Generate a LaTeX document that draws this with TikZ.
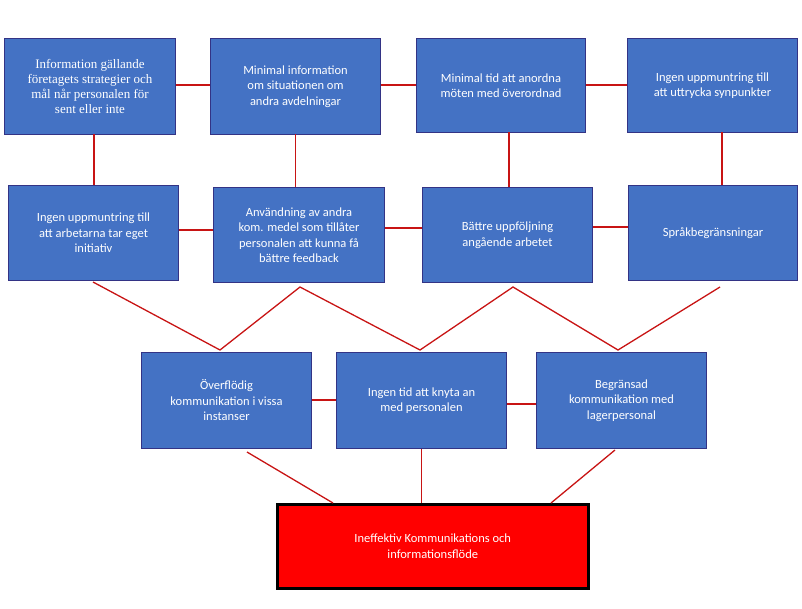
\documentclass[tikz,border=0pt]{standalone}
\usepackage{fontspec}
\setmainfont{Carlito}
\newfontfamily\serifA{Liberation Serif}
\begin{document}
\begin{tikzpicture}[x=1pt,y=-1pt,
  bx/.style={draw=blue!40!black!80!white, line width=1pt, fill={rgb,255:red,68;green,114;blue,196}, text=white, align=center, inner sep=0pt, anchor=north west, font=\fontsize{12.5}{15.5}\selectfont},
  ln/.style={draw={rgb,255:red,200;green,20;blue,20}, line width=1.3pt}]
\useasboundingbox (0,0) rectangle (802,608);
\node[bx, minimum width=171, minimum height=96, font=\serifA\fontsize{13}{15}\selectfont] (A) at (4,38) {Information gällande\\företagets strategier och\\mål når personalen för\\sent eller inte};
\node[bx, minimum width=170, minimum height=96] (B) at (210,38) {Minimal information\\om situationen om\\andra avdelningar};
\node[bx, minimum width=169, minimum height=94] (C) at (416,38) {Minimal tid att anordna\\möten med överordnad};
\node[bx, minimum width=170, minimum height=94] (D) at (627,38) {Ingen uppmuntring till\\att uttrycka synpunkter};
\node[bx, minimum width=170, minimum height=95] (E) at (8,185) {Ingen uppmuntring till\\att arbetarna tar eget\\initiativ};
\node[bx, minimum width=171, minimum height=95] (F) at (213,187) {Användning av andra\\kom. medel som tillåter\\personalen att kunna få\\bättre feedback};
\node[bx, minimum width=170, minimum height=95] (G) at (422,187) {Bättre uppföljning\\angående arbetet};
\node[bx, minimum width=169, minimum height=95] (H) at (628,185) {Språkbegränsningar};
\node[bx, minimum width=170, minimum height=96] (I) at (141,352) {Överflödig\\kommunikation i vissa\\instanser};
\node[bx, minimum width=170, minimum height=96] (J) at (336,352) {Ingen tid att knyta an\\med personalen};
\node[bx, minimum width=170, minimum height=96] (K) at (536,352) {Begränsad\\kommunikation med\\lagerpersonal};
\node[bx, draw=black, line width=2.5pt, fill={rgb,255:red,255;green,0;blue,0}, minimum width=311, minimum height=84] (L) at (276,503) {Ineffektiv Kommunikations och\\informationsflöde};
\coordinate (e1) at (93,282); \coordinate (f1) at (300,287); \coordinate (g1) at (513,287); \coordinate (h1) at (720,287);
\coordinate (i1) at (220,350); \coordinate (j1) at (420,350); \coordinate (k1) at (618,350);
\coordinate (i2) at (247,452); \coordinate (k2) at (615,450);
\coordinate (l1) at (333,503); \coordinate (l3) at (551,503);
\draw[ln] (A.east |- 0,85) -- (B.west |- 0,85);
\draw[ln] (B.east |- 0,85) -- (C.west |- 0,85);
\draw[ln] (C.east |- 0,85) -- (D.west |- 0,85);
\draw[ln] (94,134) -- (94,185);
\draw[ln] (B.south |- 0,134) -- (B.south |- 0,187);
\draw[ln] (509,132) -- (509,187);
\draw[ln] (722,132) -- (722,185);
\draw[ln] (E.east |- 0,230) -- (F.west |- 0,230);
\draw[ln] (F.east |- 0,228) -- (G.west |- 0,228);
\draw[ln] (G.east |- 0,227) -- (H.west |- 0,227);
\draw[ln] (e1) -- (i1) -- (f1) -- (j1) -- (g1) -- (k1) -- (h1);
\draw[ln] (I.east |- 0,400) -- (J.west |- 0,400);
\draw[ln] (J.east |- 0,404) -- (K.west |- 0,404);
\draw[ln] (i2) -- (l1);
\draw[ln] (J.south) -- (J.south |- L.north);
\draw[ln] (k2) -- (l3);
\end{tikzpicture}
\end{document}
